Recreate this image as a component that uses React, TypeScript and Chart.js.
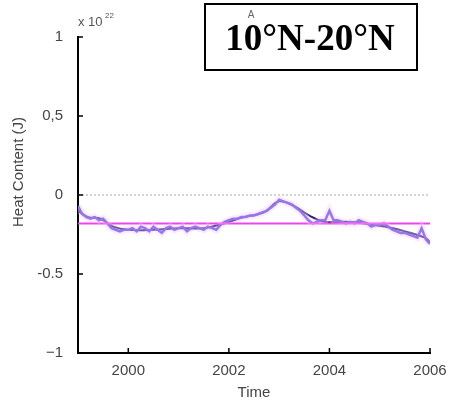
import React, { useEffect, useRef } from "react";
import { Chart, registerables } from "chart.js";

Chart.register(...registerables);

const startYear = 1999;
const monthlyHeat = [
  -0.07, -0.12, -0.14, -0.15, -0.14, -0.16, -0.15, -0.18, -0.21, -0.22, -0.23, -0.22,
  -0.22, -0.21, -0.23, -0.2, -0.21, -0.23, -0.2, -0.22, -0.24, -0.21, -0.2, -0.22,
  -0.21, -0.2, -0.23, -0.21, -0.2, -0.21, -0.22, -0.2, -0.21, -0.22, -0.19, -0.17,
  -0.16, -0.15, -0.15, -0.14, -0.14, -0.13, -0.13, -0.12, -0.11, -0.1, -0.08, -0.06,
  -0.03, -0.04, -0.05, -0.06, -0.08, -0.1, -0.13, -0.16, -0.18, -0.17, -0.16, -0.16,
  -0.1, -0.16, -0.16, -0.17, -0.18, -0.17, -0.18, -0.16, -0.17, -0.18, -0.2, -0.19,
  -0.19, -0.18, -0.2, -0.22, -0.23, -0.24, -0.24, -0.25, -0.26, -0.27, -0.21, -0.28,
  -0.31,
];
const smoothYears = [1999.0, 1999.2, 1999.45, 1999.7, 2000.0, 2000.5, 2001.0, 2001.5, 2001.9, 2002.3, 2002.7, 2003.0, 2003.3, 2003.6, 2003.9, 2004.3, 2004.7, 2005.1, 2005.5, 2005.9, 2006.0];
const smoothHeat = [-0.1, -0.14, -0.15, -0.2, -0.22, -0.22, -0.21, -0.21, -0.18, -0.14, -0.11, -0.04, -0.07, -0.13, -0.17, -0.17, -0.18, -0.2, -0.23, -0.27, -0.3];
const meanHeat = -0.18;
const xRange = [1999, 2006];
const yTicks = [-1, -0.5, 0, 0.5, 1];
const yTickLabels = ["\u22121", "-0.5", "0", "0,5", "1"];
const xTicks = [2000, 2002, 2004, 2006];

export default function App() {
  const ref = useRef<HTMLCanvasElement>(null);
  useEffect(() => {
    const canvas = ref.current!;
    const monthly = monthlyHeat.map((v, i) => ({ x: startYear + i / 12, y: v }));
    const smooth = smoothYears.map((x, i) => ({ x, y: smoothHeat[i] }));
    const decor = {
      id: "decor",
      afterDraw(chart: any) {
        const ctx = chart.ctx;
        const { left, bottom } = chart.chartArea;
        const xs = chart.scales.x;
        const ys = chart.scales.y;
        ctx.save();
        ctx.strokeStyle = "#000";
        ctx.lineWidth = 1.5;
        yTicks.forEach((v) => {
          const p = ys.getPixelForValue(v);
          ctx.beginPath();
          ctx.moveTo(left, p);
          ctx.lineTo(left + 5, p);
          ctx.stroke();
        });
        xTicks.forEach((v) => {
          const p = xs.getPixelForValue(v);
          ctx.beginPath();
          ctx.moveTo(p, bottom);
          ctx.lineTo(p, bottom - 5);
          ctx.stroke();
        });
        // exponent
        ctx.fillStyle = "#555";
        ctx.font = "13px 'Liberation Sans'";
        ctx.textBaseline = "alphabetic";
        ctx.textAlign = "left";
        ctx.fillText("x 10", 78, 26);
        ctx.font = "8px 'Liberation Sans'";
        ctx.fillText("22", 105, 18);
        // y title
        ctx.save();
        ctx.translate(19, 172);
        ctx.rotate(-Math.PI / 2);
        ctx.textAlign = "center";
        ctx.textBaseline = "middle";
        ctx.font = "15px 'Liberation Sans'";
        ctx.fillStyle = "#444";
        ctx.fillText("Heat Content (J)", 0, 0);
        ctx.restore();
        // title box
        ctx.fillStyle = "#fff";
        ctx.fillRect(205, 4, 212, 66);
        ctx.strokeStyle = "#000";
        ctx.lineWidth = 2;
        ctx.strokeRect(205, 4, 212, 66);
        ctx.fillStyle = "#000";
        ctx.textAlign = "center";
        ctx.font = "bold 37px 'Liberation Serif'";
        ctx.fillText("10\u00b0N-20\u00b0N", 310, 50);
        ctx.fillStyle = "#666";
        ctx.font = "10px 'Liberation Sans'";
        ctx.fillText("A", 251, 18);
        ctx.restore();
      },
    };
    const chart = new Chart(canvas, {
      type: "line",
      data: {
        datasets: [
          {
            data: [{ x: xRange[0], y: 0 }, { x: xRange[1] + 0.02, y: 0 }],
            borderColor: "#aaa",
            borderWidth: 1,
            borderDash: [2, 2],
            pointRadius: 0,
          },
          {
            data: monthly,
            borderColor: "rgba(255,190,255,0.35)",
            borderWidth: 7,
            pointRadius: 0,
          },
          {
            data: [{ x: xRange[0], y: meanHeat }, { x: xRange[1], y: meanHeat }],
            borderColor: "#ee44ee",
            borderWidth: 2,
            pointRadius: 0,
          },
          {
            data: monthly,
            borderColor: "#5a55dc",
            borderWidth: 2.5,
            pointRadius: 0,
          },
          {
            data: smooth,
            borderColor: "#26266e",
            borderWidth: 2,
            pointRadius: 0,
            tension: 0.4,
          },
        ],
      },
      options: {
        animation: false,
        responsive: false,
        events: [],
        layout: { padding: { left: 0, top: 37, right: 24, bottom: 0 } },
        plugins: { legend: { display: false }, tooltip: { enabled: false } },
        scales: {
          x: {
            type: "linear",
            min: xRange[0],
            max: xRange[1],
            grid: { display: false },
            border: { display: true, color: "#000", width: 2 },
            afterBuildTicks: (s: any) => {
              s.ticks = xTicks.map((v) => ({ value: v }));
            },
            afterFit: (s: any) => {
              s.height = 49;
            },
            ticks: {
              padding: 1,
              color: "#444",
              font: { family: "'Liberation Sans'", size: 15 },
              callback: (v: any) => String(v),
              maxRotation: 0,
            },
            title: {
              display: true,
              text: "Time",
              color: "#444",
              padding: { top: 0, bottom: 0 },
              font: { family: "'Liberation Sans'", size: 15 },
            },
          },
          y: {
            min: -1,
            max: 1,
            grid: { display: false },
            border: { display: true, color: "#000", width: 2 },
            afterBuildTicks: (s: any) => {
              s.ticks = yTicks.map((v) => ({ value: v }));
            },
            afterFit: (s: any) => {
              s.width = 78;
            },
            ticks: {
              padding: 7,
              color: "#444",
              font: { family: "'Liberation Sans'", size: 15 },
              callback: (v: any) => {
                const i = yTicks.indexOf(Number(v));
                return i >= 0 ? yTickLabels[i] : "";
              },
            },
          },
        },
      },
      plugins: [decor],
    });
    return () => chart.destroy();
  }, []);
  return (
    <div style={{ position: "fixed", left: 0, top: 0, width: 454, height: 402, background: "#fff" }}>
      <canvas ref={ref} width={454} height={402} />
    </div>
  );
}
